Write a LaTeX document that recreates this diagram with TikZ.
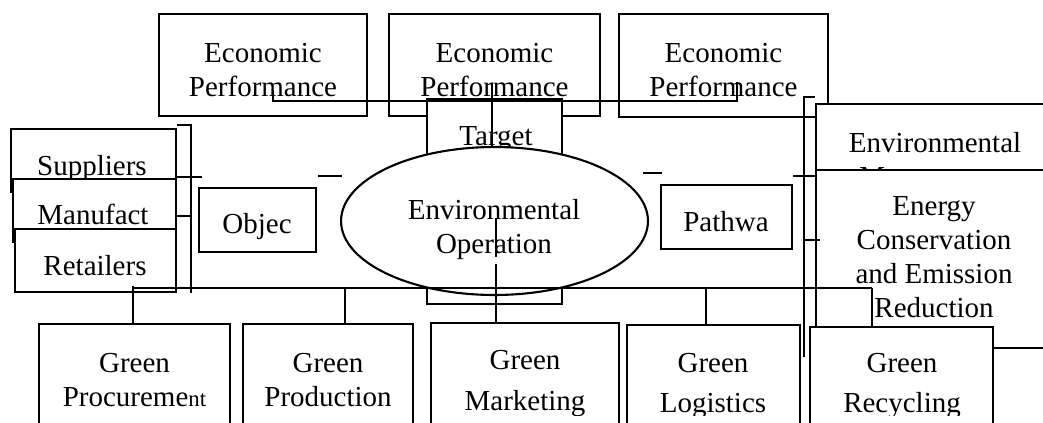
\documentclass[tikz,border=0pt]{standalone}
\usepackage{fontspec}
\setmainfont{Liberation Serif}
\usetikzlibrary{positioning,fit,shapes.geometric}

\begin{document}
\begin{tikzpicture}[x=0.02cm,y=-0.02cm,font=\fontsize{16.5}{19.35}\selectfont]

  \tikzset{
    box/.style={draw,line width=1.3pt,fill=white,inner sep=0pt},
    lbl/.style={align=center,inner sep=0pt},
    lbltall/.style={lbl,font=\fontsize{16.5}{23}\selectfont},
    wire/.style={line width=0.6pt},
  }

  \useasboundingbox (0,0) rectangle (1043,422);
  \clip (0,0) rectangle (1043,422);

  % ECONOMIC PERFORMANCE

  \node[box,fit={(159,14) (367,116)}] (econA) {};
  \node[lbl] (econAtxt) at (263,70.5) {Economic\\Performance};
  \node[box,fit={(389,14) (600,116)}] (econB) {};
  \node[lbl] (econBtxt) at (494.5,70.5) {Economic\\Performance};
  \node[box,fit={(619,14) (828,117)}] (econC) {};
  \node[lbl] (econCtxt) at (723.5,70.5) {Economic\\Performance};

  % CENTRE

  \node[box,fit={(427,99) (562,304)}] (target) {};
  \node[lbl] (targettxt) at (496,139.5) {Target};
  \node[box,ellipse,line width=1.2pt,minimum width=6.14cm,minimum height=2.96cm] (oper) at (494.5,221) {};
  \node[lbl] (opertxt) at (494,229.5) {Environmental\\Operation};

  % CHAIN MEMBERS

  \node[box,fit={(11,129) (176,192)}] (supp) {};
  \node[lbl] (supptxt) at (92,169) {Suppliers};
  \node[box,fit={(13,179) (176,242)}] (manu) {};
  \node[lbl] (manutxt) at (93,214.5) {Manufact};
  \node[box,fit={(15,229) (176,292)}] (reta) {};
  \node[lbl] (retatxt) at (95,265.5) {Retailers};

  \node[box,fit={(199,188) (316,252)}] (obj) {};
  \node[lbl] (objtxt) at (257,227) {Objec};
  \node[box,fit={(661,185) (792,249)}] (path) {};
  \node[lbl] (pathtxt) at (726,221.5) {Pathwa};

  % RIGHT

  \node[box,fit={(816,104) (1100,200)}] (envm) {};
  \node[lbl] (envmtxt) at (935,162.5) {Environmental\\Management};
  \node[box,fit={(816,170) (1100,348)}] (energy) {};
  \node[lbl] (energytxt) at (934,257.5) {Energy\\Conservation\\and Emission\\Reduction};

  % GREEN ACTIVITIES

  \node[box,fit={(39,324) (230,460)}] (proc) {};
  \node[box,fit={(243,324) (413,460)}] (prod) {};
  \node[box,fit={(431,323) (619,460)}] (mkt) {};
  \node[box,fit={(627,325) (800,460)}] (logi) {};
  \node[box,fit={(810,327) (993,460)}] (recy) {};

  \begin{scope}
    \clip (0,300) rectangle (1043,415);
    \node[lbl] (proctxt) at (134.5,380.5) {Green\\Procureme{\fontsize{13}{15}\selectfont nt}};
    \node[lbl] (prodtxt) at (328,380.5) {Green\\Production};
    \node[lbltall] (mkttxt) at (525,383.5) {Green\\Marketing};
    \node[lbltall] (logitxt) at (713,386) {Green\\Logistics};
    \node[lbltall] (recytxt) at (902,386) {Green\\Recycling};
  \end{scope}

  % lines

  \coordinate (topL) at (273,90);
  \coordinate (topR) at (737,82);
  \draw[wire] (topL) -- (topL |- 0,101) -- (topR |- 0,101) -- (topR);
  \draw[wire] (492,83) -- (492,83 |- oper.north);

  \coordinate (brkT) at (191,125);
  \draw[wire] (brkT -| supp.east) -- (brkT) -- (191,293);
  \draw[wire] (176,177) -- (202,177);
  \draw[wire] (176,216) -- (191,216);

  \draw[wire] (318,176) -- (342,176);
  \draw[wire] (643,173) -- (662,173);

  \coordinate (busL) at (133,288);
  \coordinate (busP) at (345,288);
  \coordinate (busG) at (706,288);
  \coordinate (busR) at (872,288);
  \draw[wire] (busL) -- (busR);
  \draw[wire] (133,286) -- (busL |- proc.north);
  \draw[wire] (busP) -- (busP |- prod.north);
  \draw[wire] (busG) -- (busG |- logi.north);
  \draw[wire] (busR) -- (busR |- recy.north);

  \draw[wire] (496,218) -- (496,257);
  \draw[wire] (496,264) -- (496,264 |- mkt.north);

  \coordinate (rgtT) at (804,97);
  \draw[wire] (rgtT -| envm.west) -- (rgtT) -- (804,357);
  \draw[wire] (793,176) -- (817,176);
  \draw[wire] (804,240) -- (820,240);
\end{tikzpicture}
\end{document}
